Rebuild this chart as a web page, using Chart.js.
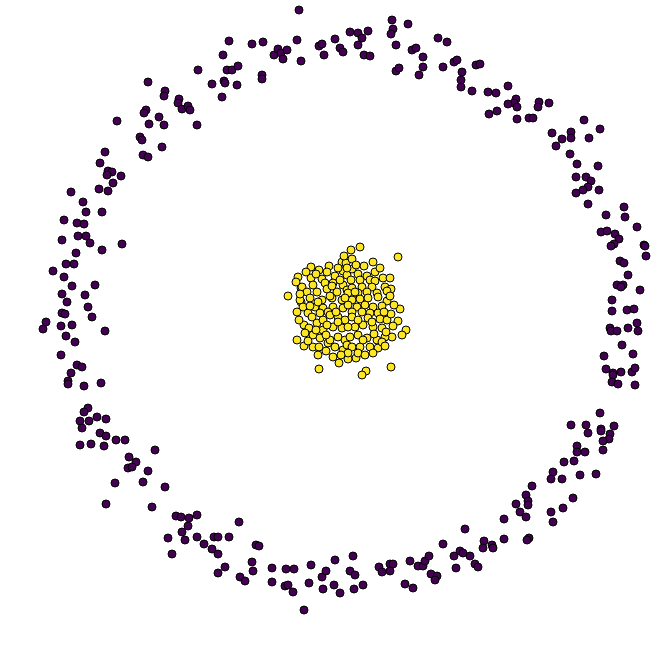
<!DOCTYPE html>
<html>
<head>
<meta charset="utf-8">
<script src="https://cdn.jsdelivr.net/npm/chart.js@4.4.0/dist/chart.umd.min.js"></script>
<style>
html,body{margin:0;padding:0;background:#fff;}
#wrap{width:660px;height:645px;position:relative;}
</style>
</head>
<body>
<div id="wrap"><canvas id="c" width="660" height="645"></canvas></div>
<script>
// Outer ring (class 0): [x, y] readings in picture units (y grows downward)
const outerPoints = [
[198,70],[212,84],[148,82],[165,91],[164,96],[179,99],[178,103],[182,109],[188,106],[190,110],
[197,125],[146,110],[144,113],[159,117],[149,124],[164,125],[117,121],[140,137],[142,140],[162,147],
[143,155],[148,157],[105,152],[100,163],[108,171],[112,172],[107,175],[121,176],[113,183],[99,189],
[108,191],[71,192],[83,202],[86,212],[102,212],
[299,10],[229,41],[252,44],[263,42],[223,55],[227,70],[232,70],[238,66],[224,81],[225,83],
[237,85],[222,97],[262,75],[262,79],[274,55],[278,49],[281,53],[287,50],[283,59],[297,40],
[301,61],[319,46],[322,44],[324,55],[335,39],[340,48],[343,52],[350,32],[358,33],[362,38],
[368,31],[358,45],[364,55],[370,56],[392,20],[393,29],[391,34],[396,45],[408,24],[396,71],
[399,68],[412,50],[416,48],[423,57],[423,67],[419,75],[438,38],
[447,42],[443,67],[454,62],[457,60],[462,72],[461,80],[461,87],[472,91],[476,65],[480,64],
[488,92],[496,93],[508,86],[516,99],[514,103],[508,104],[517,107],[489,114],[497,111],[517,119],
[529,118],[533,118],[539,102],[538,107],[549,103],[584,120],[600,129],[552,133],[571,132],[571,138],
[562,139],[556,146],[589,138],[570,154],[577,164],[598,166],[576,177],[586,177],[591,181],[588,187],
[583,190],[576,193],[599,190],[588,204],[624,207],
[606,215],[625,217],[637,227],[601,232],[607,231],[615,234],[619,239],[614,244],[611,246],[644,245],
[645,246],[646,256],[620,261],[624,263],[628,275],[617,285],[623,285],[621,287],[640,290],[612,300],
[612,311],[627,310],[634,309],[610,328],[611,331],[617,331],[628,328],[637,323],[638,331],[622,345],
[633,354],[604,356],[606,369],[613,373],[613,375],[621,372],[632,372],[635,368],[612,382],[618,384],
[635,385],[600,413],[571,425],[586,425],[601,429],[614,426],
[588,433],[601,431],[610,434],[609,439],[603,441],[577,446],[577,452],[585,452],[603,450],[574,461],
[564,462],[553,472],[551,479],[562,479],[580,475],[596,474],[532,486],[526,495],[528,501],[528,505],
[516,504],[520,512],[526,517],[551,512],[563,508],[573,498],[553,522],[504,519],[465,529],[443,544],
[484,541],[483,548],[492,545],[493,548],[504,539],[529,538],[527,540],[454,556],[460,551],[463,553],
[470,556],[475,564],[478,567],[456,568],
[239,522],[229,537],[225,567],[240,577],[245,581],[256,545],[259,546],[252,562],[253,571],[272,568],
[272,582],[286,569],[294,569],[285,586],[288,585],[293,592],[304,610],[311,565],[309,583],[322,577],
[326,571],[323,589],[335,560],[334,585],[340,593],[350,571],[355,575],[353,556],[354,589],[363,585],
[379,567],[382,572],[390,564],[393,564],[390,571],[405,584],[413,588],[410,561],[418,566],[423,566],
[425,561],[429,556],[431,574],[437,576],[435,580],
[100,433],[106,436],[116,440],[125,440],[80,445],[91,444],[104,446],[155,450],[129,457],[136,462],
[128,468],[132,467],[148,471],[143,482],[115,483],[165,487],[106,504],[152,507],[176,516],[181,517],
[189,518],[197,515],[188,526],[182,532],[168,538],[185,540],[197,537],[214,537],[218,537],[204,544],
[212,549],[218,554],[172,554],[218,573],
[64,220],[77,223],[84,224],[62,240],[78,236],[86,236],[90,243],[102,250],[122,244],[76,253],
[66,264],[74,264],[53,271],[64,277],[72,286],[95,285],[62,294],[85,295],[67,302],[88,307],
[62,313],[65,314],[92,317],[46,322],[43,329],[61,326],[72,325],[105,331],[66,336],[75,342],
[61,355],[77,365],[82,367],[71,373],[68,381],[68,384],[84,386],[101,383],[88,408],[84,412],
[97,417],[106,419],[80,421],[89,421],[82,428]
];

// Inner cluster (class 1)
const innerPoints = [
[360,247],[398,257],[373,262],[375,272],[385,287],[391,289],[400,309],[398,321],[406,330],[402,335],
[392,337],[391,367],[366,371],[362,375],[356,358],[348,359],
[311,267],[319,270],[329,266],[342,262],[346,263],[298,277],[288,296],[301,288],[301,302],[297,340],
[304,346],[313,347],[319,347],[319,369],[333,357],[339,363],[328,343],
[311,278],[322,279],[335,276],[343,271],[347,275],[302,287],[313,285],[325,283],[333,283],[343,285],
[307,292],[317,292],[327,289],[337,292],[347,290],[300,300],[310,298],[322,300],[332,298],[342,300],
[303,307],[315,307],[323,308],[333,307],[343,308],[297,312],[308,313],[320,313],[328,312],
[351,250],[352,259],[352,269],[358,274],[367,276],[351,280],[360,280],[370,280],[375,281],[352,288],
[362,287],[372,287],[387,291],[348,293],[358,293],[367,292],[377,293],[352,300],[360,299],[368,298],
[378,297],[387,301],[348,305],[357,307],[365,305],[373,307],[382,306],[352,312],[362,312],[370,313],
[378,313],
[304,325],[312,317],[309,328],[317,323],[323,320],[330,315],[338,317],[345,320],[313,335],[323,330],
[333,327],[342,328],[320,338],[330,340],[338,337],[345,340],[335,347],[343,350],[347,345],
[352,317],[368,318],[380,319],[387,320],[355,327],[363,325],[373,327],[382,328],[350,337],[358,335],
[367,338],[377,340],[385,337],[352,347],[360,347],[370,347],[378,348],[382,342],[358,353],[348,353],
[306,272],[316,274],[327,272],[338,268],[344,256],[364,266],[380,268],[383,278],[390,296],[394,305],
[391,314],[393,326],[386,332],[299,320],[305,333],[300,294],[296,282],[308,341],[326,351],[318,355],
[341,355],[365,355],[373,353],[385,346],[340,280],[330,296],[318,302],[310,306],[327,325],[338,322],
[348,327],[358,320],[372,322],[384,312],[390,278],[355,292],[345,298],[336,312],[326,335],[316,330],
[363,340],[374,334],[347,268],[332,286],[356,265]
];

const classColors = ['#440154', '#fde725'];

function toXY(arr){ return arr.map(p => ({x: p[0], y: p[1]})); }

new Chart(document.getElementById('c'), {
  type: 'scatter',
  data: {
    datasets: [
      { label: '0', data: toXY(outerPoints), backgroundColor: classColors[0], borderColor: '#000', borderWidth: 1, pointRadius: 4, clip: false },
      { label: '1', data: toXY(innerPoints), backgroundColor: classColors[1], borderColor: '#000', borderWidth: 1, pointRadius: 4, clip: false }
    ]
  },
  options: {
    responsive: false,
    animation: false,
    layout: { padding: 0, autoPadding: false },
    plugins: { legend: { display: false }, tooltip: { enabled: false } },
    scales: {
      x: { type: 'linear', display: false, min: 0, max: 660 },
      y: { type: 'linear', display: false, min: 0, max: 645, reverse: true }
    }
  }
});
</script>
</body>
</html>
